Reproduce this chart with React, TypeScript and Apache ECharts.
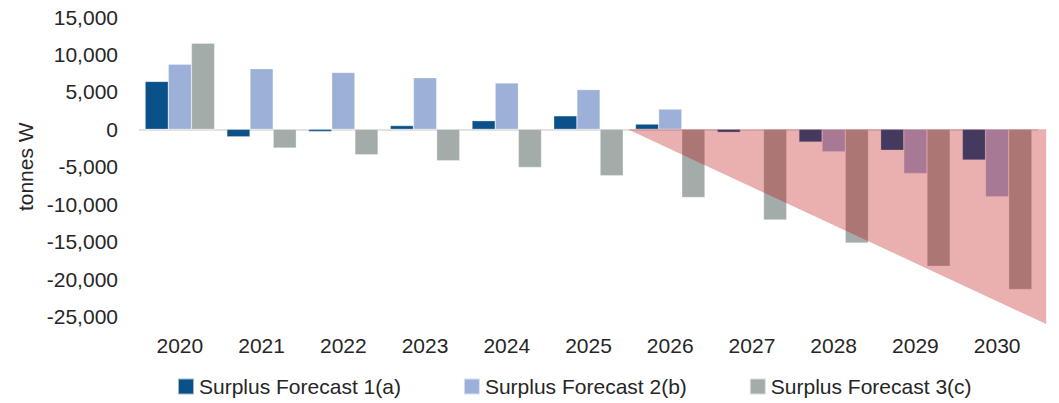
import React, { useEffect, useRef } from "react";
import * as echarts from "echarts";

const years = ["2020", "2021", "2022", "2023", "2024", "2025", "2026", "2027", "2028", "2029", "2030"];
const forecast1 = [6400, -1000, -300, 500, 1150, 1800, 700, -400, -1700, -2800, -4100];
const forecast2 = [8700, 8100, 7600, 6900, 6200, 5300, 2700, 0, -3000, -5900, -9000];
const forecast3 = [11500, -2500, -3400, -4200, -5100, -6200, -9100, -12100, -15200, -18300, -21400];
const seriesNames = ["Surplus Forecast 1(a)", "Surplus Forecast 2(b)", "Surplus Forecast 3(c)"];
const seriesColors = ["#0b5189", "#9cb0d8", "#a4acaa"];
// deficit wedge annotation, in data units: [category index, value]
const wedge = [
  [5.48, 0],
  [10.6, 0],
  [10.6, -26000],
];

const FONT = "'Liberation Sans', Arial, sans-serif";
const TEXT = "#262626";

export default function App() {
  const ref = useRef<HTMLDivElement>(null);
  useEffect(() => {
    document.body.style.margin = "0";
    const chart = echarts.init(ref.current!, null, { renderer: "svg" });
    const bar = (i: number, data: number[]) => ({
      name: seriesNames[i],
      type: "bar",
      data,
      barGap: "0%",
      barCategoryGap: "15%",
      itemStyle: { color: seriesColors[i], borderColor: "rgba(255,255,255,0.6)", borderWidth: 0.5 },
      z: 2,
    });
    chart.setOption({
      animation: false,
      textStyle: { fontFamily: FONT },
      grid: { left: 139, right: 21, top: 17, bottom: 86.5, containLabel: false },
      legend: {
        data: seriesNames,
        left: 177,
        top: 376,
        padding: 0,
        itemWidth: 16,
        itemHeight: 16,
        itemGap: 62,
        textStyle: { fontSize: 21, color: TEXT, fontFamily: FONT },
        icon: "rect",
      },
      xAxis: {
        type: "category",
        data: years,
        axisLine: { show: false, onZero: false },
        axisTick: { show: false },
        axisLabel: { fontSize: 21, color: TEXT, margin: 18, fontFamily: FONT },
      },
      yAxis: {
        type: "value",
        min: -25000,
        max: 15000,
        interval: 5000,
        axisLine: { show: false },
        axisTick: { show: false },
        splitLine: { show: false },
        axisLabel: {
          fontSize: 21,
          color: TEXT,
          margin: 21,
          fontFamily: FONT,
          formatter: (v: number) => v.toLocaleString("en-US"),
        },
        name: "tonnes W",
        nameLocation: "middle",
        nameGap: 96,
        nameTextStyle: { fontSize: 21, color: TEXT, fontFamily: FONT },
      },
      series: [
        {
          ...bar(0, forecast1),
          markLine: {
            silent: true,
            symbol: "none",
            label: { show: false },
            lineStyle: { color: "#d9d9d9", type: "solid", width: 1.5 },
            data: [{ yAxis: 0 }],
            z: 1,
          },
        },
        bar(1, forecast2),
        bar(2, forecast3),
        {
          type: "custom",
          name: "wedge",
          clip: false,
          silent: true,
          z: 10,
          data: [0],
          renderItem: (_params: any, api: any) => {
            const pts = wedge.map(([idx, val]) => {
              const a = api.coord([0, val]);
              const b = api.coord([1, val]);
              return [a[0] + (b[0] - a[0]) * idx, a[1]];
            });
            return {
              type: "polygon",
              shape: { points: pts },
              style: { fill: "rgba(190,5,5,0.32)", stroke: "none" },
            };
          },
        },
      ],
    });
    return () => chart.dispose();
  }, []);
  return <div ref={ref} style={{ width: 1059, height: 403 }} />;
}
